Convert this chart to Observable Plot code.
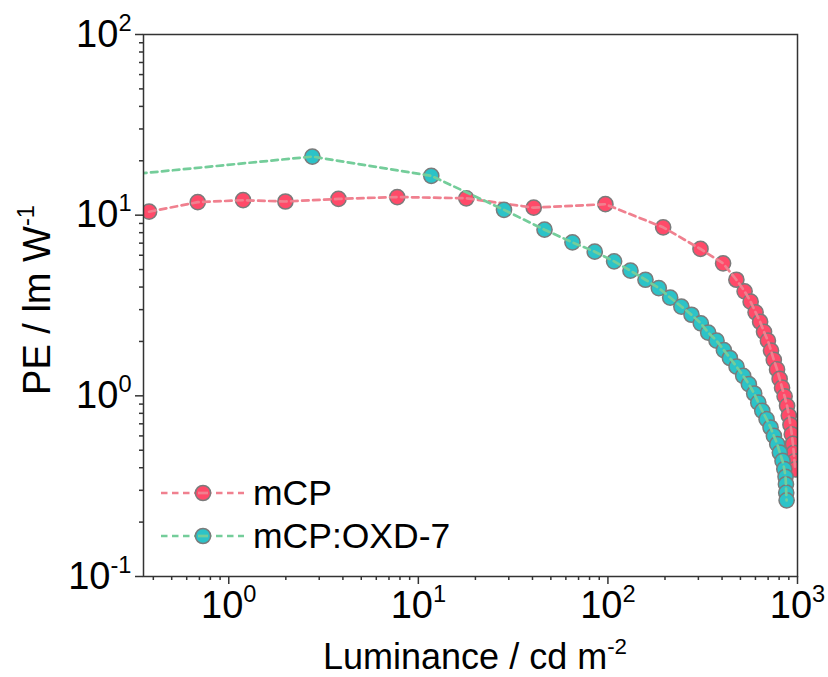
<!DOCTYPE html>
<html>
<head>
<meta charset="utf-8">
<script src="https://cdn.jsdelivr.net/npm/d3@7"></script>
<script src="https://cdn.jsdelivr.net/npm/@observablehq/plot@0.6"></script>
<style>
  body { margin: 0; background: #fff; }
  #chart { width: 828px; height: 677px; }
  svg text { font-family: "Liberation Sans", Arial, sans-serif; }
</style>
</head>
<body>
<div id="chart"></div>
<script>
// Power efficiency vs luminance for the two devices
const seriesNames = ["mCP", "mCP:OXD-7"];

const mcpLuminance = [0.38, 0.686, 1.19, 1.99, 3.79, 7.74, 17.9, 40.6, 97, 195.6, 307.8, 405, 476, 526, 566, 601, 635, 666, 698, 725, 750, 780, 805, 829, 855, 881, 900, 918, 933, 946, 956, 965, 972];
const mcpPE = [10.45, 11.8, 12.1, 11.9, 12.3, 12.6, 12.4, 11.0, 11.5, 8.56, 6.5, 5.41, 4.39, 3.79, 3.32, 2.90, 2.57, 2.26, 2.02, 1.78, 1.58, 1.40, 1.24, 1.11, 0.994, 0.880, 0.778, 0.691, 0.612, 0.542, 0.483, 0.434, 0.392];

const oxdLuminance = [0.2, 2.76, 11.7, 28.3, 46.3, 65.0, 85.2, 107.8, 131.5, 157.8, 185.5, 213, 244, 276, 309, 338, 374, 409, 440, 477, 517, 554, 591, 621, 652, 687, 721, 751, 782, 807, 834, 852, 865, 869, 872, 876];
const oxdPE = [16.1, 21.1, 16.5, 10.7, 8.31, 7.07, 6.28, 5.55, 4.93, 4.39, 3.95, 3.50, 3.12, 2.81, 2.52, 2.24, 2.02, 1.79, 1.62, 1.45, 1.29, 1.16, 1.03, 0.918, 0.826, 0.743, 0.668, 0.600, 0.540, 0.485, 0.436, 0.393, 0.356, 0.324, 0.291, 0.264];

const xMajorTicks = [1, 10, 100, 1000];
const yMajorTicks = [0.1, 1, 10, 100];
const xTitle = "Luminance / cd m^-2";
const yTitle = "PE / lm W^-1";

const xDomain = [0.355, 1000];
const yDomain = [0.1, 100];

// minor ticks at 2..9 within each decade
function minorTicks([lo, hi]) {
  const out = [];
  for (let e = Math.floor(Math.log10(lo)); e < Math.ceil(Math.log10(hi)); e++) {
    for (let k = 2; k <= 9; k++) {
      const v = k * Math.pow(10, e);
      if (v >= lo && v <= hi) out.push(v);
    }
  }
  return out;
}

const styles = {
  "mCP": {fill: "#ff4a69", line: "#f0808f"},
  "mCP:OXD-7": {fill: "#2cc3c8", line: "#74cd9a"}
};

const mcpRows = mcpLuminance.map((x, i) => ({series: seriesNames[0], lum: x, pe: mcpPE[i]}));
const oxdRows = oxdLuminance.map((x, i) => ({series: seriesNames[1], lum: x, pe: oxdPE[i]}));

const markerStroke = "#7b7b7b";
const dash = "6.5,4.5";
const axisColor = "#333";
const tickFont = 38;

const seriesMarks = (rows) => {
  const s = styles[rows[0].series];
  return [
    Plot.dot(rows, {x: "lum", y: "pe", r: 7.6, fill: s.fill, stroke: markerStroke, strokeWidth: 1.5, clip: true}),
    Plot.line(rows, {x: "lum", y: "pe", stroke: s.line, strokeWidth: 2.7, strokeDasharray: dash, clip: true})
  ];
};

const expLabel = d => "10^" + Math.round(Math.log10(d));

const chart = Plot.plot({
  width: 828,
  height: 677,
  marginLeft: 143,
  marginRight: 31,
  marginTop: 34,
  marginBottom: 101,
  style: {background: "#fff", color: "#000", fontFamily: "Liberation Sans, Arial, sans-serif", overflow: "visible"},
  x: {type: "log", domain: xDomain},
  y: {type: "log", domain: yDomain},
  marks: [
    Plot.axisX(minorTicks(xDomain), {tickSize: 4, tickFormat: () => "", label: null, stroke: axisColor, strokeWidth: 1.5}),
    Plot.axisX(xMajorTicks, {tickSize: 8, tickPadding: 7, tickFormat: expLabel, label: null, stroke: axisColor, strokeWidth: 1.5}),
    Plot.axisY(minorTicks(yDomain), {tickSize: 4, tickFormat: () => "", label: null, stroke: axisColor, strokeWidth: 1.5}),
    Plot.axisY(yMajorTicks, {tickSize: 8, tickPadding: 4, tickFormat: expLabel, label: null, stroke: axisColor, strokeWidth: 1.5}),
    ...seriesMarks(mcpRows),
    ...seriesMarks(oxdRows),
    Plot.frame({stroke: axisColor, strokeWidth: 1.5})
  ]
});

const svg = d3.select(chart);

// enlarge the decade tick labels
svg.selectAll("text").each(function() {
  if (/^10\^/.test(this.textContent)) {
    d3.select(this).attr("font-size", tickFont).style("font-size", tickFont + "px");
  }
});

// axis titles
svg.append("text")
  .attr("x", 475).attr("y", 669)
  .attr("text-anchor", "middle")
  .attr("font-size", 36)
  .attr("fill", "#000")
  .text(xTitle);
svg.append("text")
  .attr("transform", "translate(50,300) rotate(-90)")
  .attr("text-anchor", "middle")
  .attr("font-size", 38)
  .attr("fill", "#000")
  .text(yTitle);

// legend
const legend = svg.append("g");
seriesNames.forEach((name, i) => {
  const s = styles[name];
  const y = 493 + i * 43;
  legend.append("line")
    .attr("x1", 161).attr("x2", 244).attr("y1", y).attr("y2", y)
    .attr("stroke", s.line).attr("stroke-width", 2.7).attr("stroke-dasharray", dash);
  legend.append("circle")
    .attr("cx", 203).attr("cy", y).attr("r", 7.6)
    .attr("fill", s.fill).attr("stroke", markerStroke).attr("stroke-width", 1.5);
  legend.append("line")
    .attr("x1", 198).attr("x2", 208).attr("y1", y).attr("y2", y)
    .attr("stroke", s.line).attr("stroke-width", 2.7);
  legend.append("text")
    .attr("x", 253).attr("y", y + 12)
    .attr("text-anchor", "start")
    .attr("font-size", 35.5)
    .attr("fill", "#000")
    .text(name);
});

// turn "a^b" into a base with a raised exponent
svg.selectAll("text").each(function() {
  const t = this.textContent;
  const m = /^(.*)\^(.*)$/.exec(t);
  if (!m) return;
  const el = d3.select(this);
  const fs = parseFloat(el.attr("font-size")) || tickFont;
  const sub = fs * 0.62;
  el.selectAll("*").remove();
  el.text(null);
  el.append("tspan").text(m[1]);
  el.append("tspan")
    .attr("font-size", sub.toFixed(1))
    .style("font-size", sub.toFixed(1) + "px")
    .attr("dy", (-fs * 0.42).toFixed(1))
    .text(m[2]);
});

document.getElementById("chart").appendChild(chart);
</script>
</body>
</html>
